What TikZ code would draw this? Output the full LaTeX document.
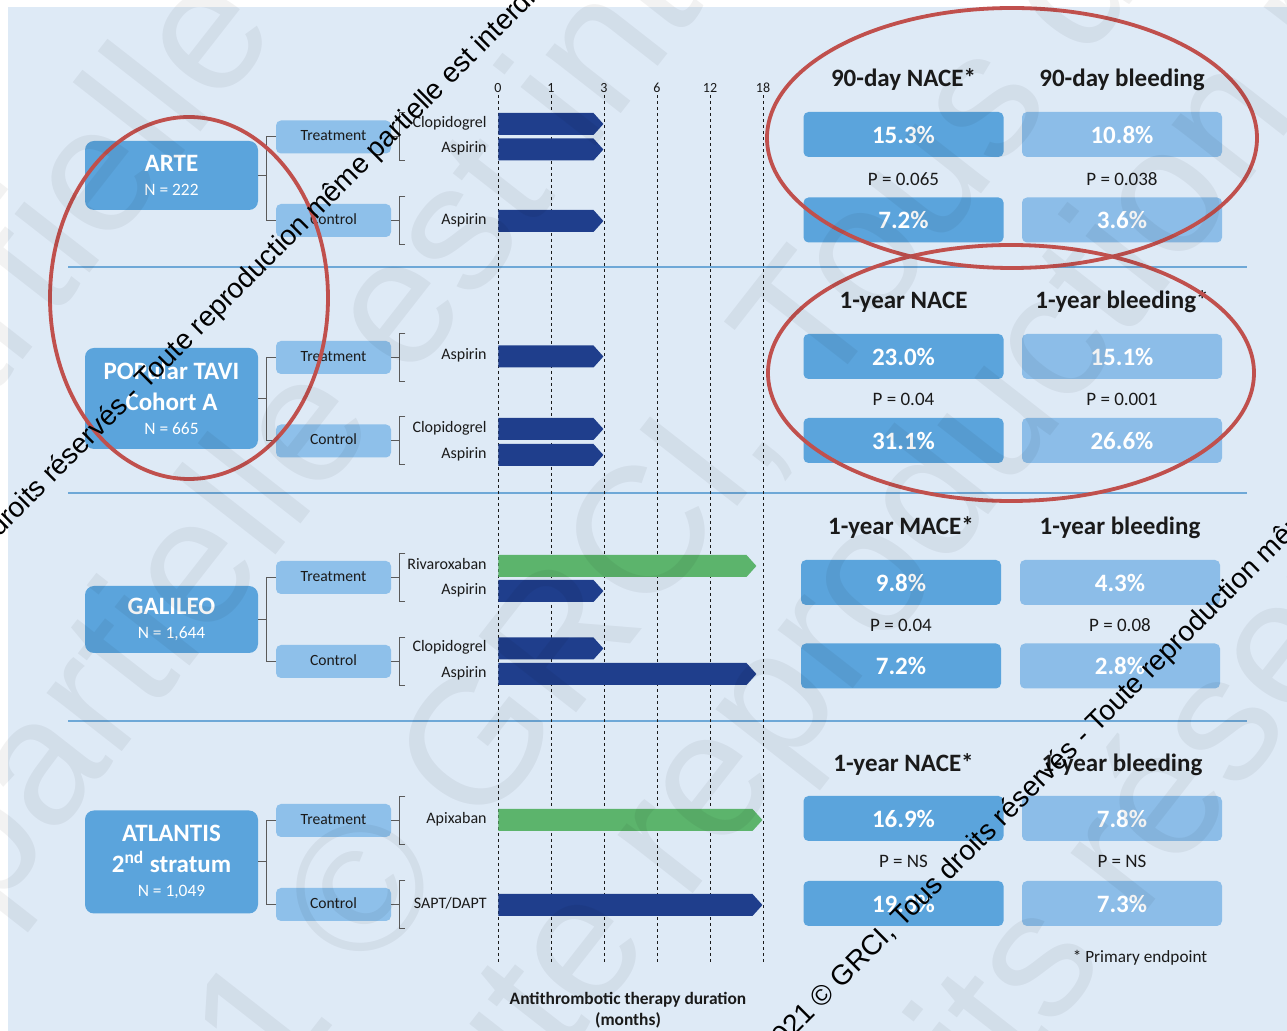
\documentclass[tikz,border=0pt]{standalone}
\usepackage{fontspec}
\setmainfont{Carlito}
\newfontfamily\wmfont{Liberation Sans}
\usetikzlibrary{shapes.symbols, positioning}
\definecolor{panel}{RGB}{222,234,246}
\definecolor{studyblue}{RGB}{91,164,220}
\definecolor{armblue}{RGB}{142,192,234}
\definecolor{resblue}{RGB}{140,189,232}
\definecolor{navy}{RGB}{31,62,140}
\definecolor{leaf}{RGB}{92,180,108}
\definecolor{sepline}{RGB}{110,168,215}
\definecolor{circred}{RGB}{192,80,77}
\definecolor{ink}{RGB}{26,26,26}
\definecolor{bracket}{RGB}{90,90,90}

\newcommand\studyfont{\bfseries\fontsize{12.5}{15.5}\selectfont}
\newcommand\countfont{\fontsize{8.7}{12}\selectfont}
\newcommand\drugbrace[1]{\draw[brk] (#1.east) -- ++(8,0) ++(6,-24) -- ++(-6,0) -- ++(0,48) -- ++(6,0);}

\tikzset{
  study/.style={rounded corners=4.5pt, fill=studyblue, text=white,
                minimum width=86.5pt, align=center, inner sep=0pt},
  arm/.style={rounded corners=2.5pt, fill=armblue, text=ink,
              minimum width=57.5pt, minimum height=16.5pt, inner sep=0pt,
              text height=5.5pt, text depth=1.5pt, font=\fontsize{7.8}{9}\selectfont},
  drug/.style={text=ink, inner sep=0pt, text height=5.2pt, text depth=1.9pt,
               font=\fontsize{8}{9}\selectfont},
  navybar/.style={signal, signal to=east, signal pointer angle=96, fill=navy,
                  minimum height=11pt, inner sep=0pt, anchor=west},
  greenbar/.style={navybar, fill=leaf},
  threemo/.style={minimum width=52.5pt},
  galmo/.style={minimum width=129pt},
  atlmo/.style={minimum width=132pt},
  brk/.style={draw=bracket, line width=0.5pt},
  tick/.style={text=ink, inner sep=1pt, font=\fontsize{7}{8}\selectfont},
  grid/.style={draw=ink, line width=0.5pt, dash pattern=on 1.5pt off 1.5pt},
  sep/.style={draw=sepline, line width=0.7pt},
  head/.style={text=ink, font=\bfseries\fontsize{12.5}{14}\selectfont},
  resA/.style={rounded corners=2.5pt, fill=studyblue, text=white,
               minimum width=100pt, minimum height=22.5pt, inner sep=0pt,
               font=\bfseries\fontsize{12.5}{14}\selectfont},
  resB/.style={resA, fill=resblue},
  pval/.style={text=ink, font=\fontsize{9.5}{11}\selectfont},
  circ/.style={draw=circred, line width=1.9pt},
  wmline/.style={text=black, anchor=base west, rotate=45, inner sep=0pt,
                 font=\wmfont\fontsize{14}{16}\selectfont},
  wmfaint/.style={text=black, text opacity=0.05, anchor=base west, rotate=52,
                  inner sep=0pt, font=\wmfont\fontsize{90}{100}\selectfont}
}

\begin{document}
\begin{tikzpicture}[x=0.5pt, y=-0.5pt]
\useasboundingbox (0,0) rectangle (1287,1031);
\clip (0,0) rectangle (1287,1031);
\fill[white] (0,0) rectangle (1287,1031);
\fill[panel] (8,7) rectangle (1287,1031);

% separators between trials
\foreach \y in {267,493,721} \draw[sep] (68,\y) -- (1247,\y);

% time axis
\foreach \m/\x in {0/498,1/551,3/604,6/657,12/710,18/763}{
  \node[tick] (t\m) at (\x,88) {\m};
  \coordinate (g\m) at (\x,962);
  \draw[grid] (t\m.south) -- (g\m);
}
\node[text=ink, align=center, font=\bfseries\fontsize{8.7}{10.5}\selectfont] (axis) at (628,1010)
  {Antithrombotic therapy duration\\(months)};

% ARTE
\node[study, minimum height=34.5pt] (arte) at (171.5,175.5) {{\studyfont ARTE}\\{\countfont N = 222}};
\node[arm] (arteT) at (333.5,137) {Treatment};
\node[arm] (arteC) at (333.5,220.5) {Control};
\draw[brk] (arteT.west) -- ++(-9,0) |- (arteC.west);
\draw[brk] (arte.east) -- ++(9,0);
\drugbrace{arteT}
\drugbrace{arteC}
\node[navybar, threemo] (arteTb1) at (498,124) {};
\node[navybar, threemo] (arteTb2) at (498,149.5) {};
\node[navybar, threemo] (arteCb1) at (498,221) {};
\node[drug, left=5.5pt of arteTb1] (arteTd1) {Clopidogrel};
\node[drug, left=5.5pt of arteTb2] (arteTd2) {Aspirin};
\node[drug, left=5.5pt of arteCb1] (arteCd1) {Aspirin};

% POPular TAVI
\node[study, minimum height=50.5pt] (pop) at (171.5,398.5)
  {{\studyfont POPular TAVI}\\[3.5pt]{\studyfont Cohort A}\\{\countfont N = 665}};
\node[arm] (popT) at (333.5,357.5) {Treatment};
\node[arm] (popC) at (333.5,441) {Control};
\draw[brk] (popT.west) -- ++(-9,0) |- (popC.west);
\draw[brk] (pop.east) -- ++(9,0);
\drugbrace{popT}
\drugbrace{popC}
\node[navybar, threemo] (popTb1) at (498,356.5) {};
\node[navybar, threemo] (popCb1) at (498,429) {};
\node[navybar, threemo] (popCb2) at (498,455) {};
\node[drug, left=5.5pt of popTb1] (popTd1) {Aspirin};
\node[drug, left=5.5pt of popCb1] (popCd1) {Clopidogrel};
\node[drug, left=5.5pt of popCb2] (popCd2) {Aspirin};

% GALILEO
\node[study, minimum height=33.5pt] (gal) at (171.5,619.5) {{\studyfont GALILEO}\\{\countfont N = 1,644}};
\node[arm] (galT) at (333.5,577.5) {Treatment};
\node[arm] (galC) at (333.5,661.5) {Control};
\draw[brk] (galT.west) -- ++(-9,0) |- (galC.west);
\draw[brk] (gal.east) -- ++(9,0);
\drugbrace{galT}
\drugbrace{galC}
\node[greenbar, galmo] (galTb1) at (498,566) {};
\node[navybar, threemo] (galTb2) at (498,591) {};
\node[navybar, threemo] (galCb1) at (498,648.5) {};
\node[navybar, galmo] (galCb2) at (498,674) {};
\node[drug, left=5.5pt of galTb1] (galTd1) {Rivaroxaban};
\node[drug, left=5.5pt of galTb2] (galTd2) {Aspirin};
\node[drug, left=5.5pt of galCb1] (galCd1) {Clopidogrel};
\node[drug, left=5.5pt of galCb2] (galCd2) {Aspirin};

% ATLANTIS
\node[study, minimum height=51.5pt] (atl) at (171.5,862)
  {{\studyfont ATLANTIS}\\[3.5pt]{\studyfont 2\textsuperscript{nd} stratum}\\{\countfont N = 1,049}};
\node[arm] (atlT) at (333.5,820.5) {Treatment};
\node[arm] (atlC) at (333.5,904.5) {Control};
\draw[brk] (atlT.west) -- ++(-9,0) |- (atlC.west);
\draw[brk] (atl.east) -- ++(9,0);
\drugbrace{atlT}
\drugbrace{atlC}
\node[greenbar, atlmo] (atlTb1) at (498,820) {};
\node[navybar, atlmo] (atlCb1) at (498,905) {};
\node[drug, left=5.5pt of atlTb1] (atlTd1) {Apixaban};
\node[drug, left=5.5pt of atlCb1] (atlCd1) {SAPT/DAPT};

% outcomes
\node[head] (h1a) at (903.5,80) {90-day NACE*};
\node[head] (h1b) at (1122,80) {90-day bleeding};
\node[resA] (r1a) at (903.5,134.5) {15.3\%};
\node[resB] (r1b) at (1122,134.5) {10.8\%};
\node[pval] (p1a) at (903.5,179) {P = 0.065};
\node[pval] (p1b) at (1122,179) {P = 0.038};
\node[resA] (s1a) at (903.5,220) {7.2\%};
\node[resB] (s1b) at (1122,220) {3.6\%};

\node[head] (h2a) at (903.5,302) {1-year NACE};
\node[head] (h2b) at (1122,302) {1-year bleeding*};
\node[resA] (r2a) at (903.5,356.5) {23.0\%};
\node[resB] (r2b) at (1122,356.5) {15.1\%};
\node[pval] (p2a) at (903.5,399) {P = 0.04};
\node[pval] (p2b) at (1122,399) {P = 0.001};
\node[resA] (s2a) at (903.5,440.5) {31.1\%};
\node[resB] (s2b) at (1122,440.5) {26.6\%};

\node[head] (h3a) at (901,528) {1-year MACE*};
\node[head] (h3b) at (1120,528) {1-year bleeding};
\node[resA] (r3a) at (901,582.5) {9.8\%};
\node[resB] (r3b) at (1120,582.5) {4.3\%};
\node[pval] (p3a) at (901,625) {P = 0.04};
\node[pval] (p3b) at (1120,625) {P = 0.08};
\node[resA] (s3a) at (901,666) {7.2\%};
\node[resB] (s3b) at (1120,666) {2.8\%};

\node[head] (h4a) at (903.5,765) {1-year NACE*};
\node[head] (h4b) at (1122,765) {1-year bleeding};
\node[resA] (r4a) at (903.5,818.5) {16.9\%};
\node[resB] (r4b) at (1122,818.5) {7.8\%};
\node[pval] (p4a) at (903.5,861) {P = NS};
\node[pval] (p4b) at (1122,861) {P = NS};
\node[resA] (s4a) at (903.5,903.5) {19.3\%};
\node[resB] (s4b) at (1122,903.5) {7.3\%};

\node[text=ink, font=\fontsize{8.6}{10}\selectfont] (note) at (1140,958) {* Primary endpoint};

% red marks
\draw[circ] (189,298) ellipse [x radius=139, y radius=181];
\draw[circ] (1012,138) ellipse [x radius=245, y radius=130];
\draw[circ] (1011,373) ellipse [x radius=243, y radius=128];

% faint background watermark
\node[wmfaint] (wm1) at (-447,961) {même partielle};
\node[wmfaint] (wm2) at (-9,920) {partielle est interdite};
\node[wmfaint] (wm3) at (91,1334) {2021 © GRCI, Tous droits réservés};
\node[wmfaint] (wm4) at (383,1290) {Toute reproduction même partielle};
\node[wmfaint] (wm5) at (572,1647) {Tous droits réservés};

% watermark lines
\node[wmline] (wmA) at (-178.5,715.5) {2021 © GRCI, Tous droits réservés - Toute reproduction même partielle est interdite};
\node[wmline] (wmB) at (772,1059) {2021 © GRCI, Tous droits réservés - Toute reproduction même partielle est interdite};
\end{tikzpicture}
\end{document}
